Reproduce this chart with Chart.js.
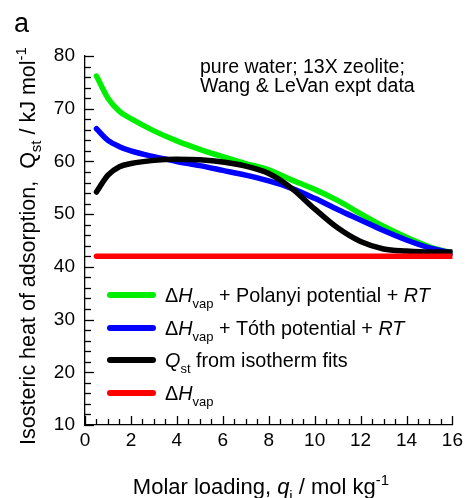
<!DOCTYPE html>
<html>
<head>
<meta charset="utf-8">
<script src="https://cdn.jsdelivr.net/npm/chart.js@4"></script>
<style>
  html, body { margin: 0; padding: 0; background: #fff; }
  #wrap { width: 467px; height: 498px; position: relative; }
</style>
</head>
<body>
<div id="wrap"><canvas id="qstChart"></canvas></div>
<script>
// molar loading, mol/kg
const loading = [0.5, 1, 1.5, 2, 3, 4, 5, 6, 7, 8, 9, 10, 11, 12, 13, 14, 15, 16];
// heats of adsorption, kJ/mol
const polanyi = [76.2, 72.0, 69.5, 68.1, 65.8, 63.9, 62.3, 60.9, 59.6, 58.4, 56.5, 54.7, 52.6, 50.1, 47.7, 45.6, 43.8, 42.6];
const toth    = [66.2, 64.0, 62.8, 62.0, 60.9, 60.0, 59.2, 58.3, 57.4, 56.3, 54.9, 53.0, 50.9, 48.9, 46.9, 45.1, 43.6, 42.6];
const qstFit  = [54.2, 57.4, 59.0, 59.6, 60.2, 60.4, 60.3, 59.9, 59.1, 57.7, 54.9, 51.0, 47.4, 44.8, 43.4, 43.0, 42.8, 42.8];
const dHvap   = [42, 42, 42, 42, 42, 42, 42, 42, 42, 42, 42, 42, 42, 42, 42, 42, 42, 42];

const FONT = "'Liberation Sans', Arial, sans-serif";

const pts = (ys) => loading.map((x, i) => ({ x: x, y: ys[i] }));

// little rich-text helper: italic, subscript, superscript
function partFont(p, size) {
  const s = (p.sub || p.sup) ? Math.round(size * 0.68) : size;
  return (p.i ? 'italic ' : '') + s + 'px ' + FONT;
}
function richWidth(ctx, parts, size) {
  let w = 0;
  parts.forEach(p => { ctx.font = partFont(p, size); w += ctx.measureText(p.t).width; });
  return w;
}
function drawRich(ctx, x, y, parts, size) {
  ctx.textBaseline = 'alphabetic';
  ctx.textAlign = 'left';
  parts.forEach(p => {
    ctx.font = partFont(p, size);
    let dy = 0;
    if (p.sub) dy = size * 0.3;
    if (p.sup) dy = -size * 0.42;
    ctx.fillText(p.t, x, y + dy);
    x += ctx.measureText(p.t).width;
  });
}

const legendItems = [
  { color: '#00ee00', parts: [{ t: '\u0394' }, { t: 'H', i: 1 }, { t: 'vap', sub: 1 }, { t: ' + Polanyi potential + ' }, { t: 'RT', i: 1 }] },
  { color: '#0000ff', parts: [{ t: '\u0394' }, { t: 'H', i: 1 }, { t: 'vap', sub: 1 }, { t: ' + T\u00f3th potential + ' }, { t: 'RT', i: 1 }] },
  { color: '#000000', parts: [{ t: 'Q', i: 1 }, { t: 'st', sub: 1 }, { t: ' from isotherm fits' }] },
  { color: '#ff0000', parts: [{ t: '\u0394' }, { t: 'H', i: 1 }, { t: 'vap', sub: 1 }] }
];

const decor = {
  id: 'decor',
  afterDraw(chart) {
    const ctx = chart.ctx;
    const xs = chart.scales.x, ys = chart.scales.y;
    const a = chart.chartArea;
    ctx.save();
    ctx.strokeStyle = '#000';
    ctx.lineWidth = 1.3;
    // inward ticks
    for (let v = 10; v <= 80; v += 2) {
      const py = Math.round(ys.getPixelForValue(v)) + 0.5;
      const len = v % 10 === 0 ? 9 : 6;
      ctx.beginPath(); ctx.moveTo(a.left, py); ctx.lineTo(a.left + len, py); ctx.stroke();
    }
    for (let v = 0; v <= 16; v += 0.5) {
      const px = Math.round(xs.getPixelForValue(v)) + 0.5;
      const len = v % 2 === 0 ? 9 : 6;
      ctx.beginPath(); ctx.moveTo(px, a.bottom); ctx.lineTo(px, a.bottom - len); ctx.stroke();
    }

    ctx.fillStyle = '#000';
    // panel letter
    ctx.font = '27px ' + FONT;
    ctx.fillText('a', 14, 32);

    // note
    ctx.font = '19.5px ' + FONT;
    ctx.fillText('pure water; 13X zeolite;', 200, 73);
    ctx.fillText('Wang & LeVan expt data', 200, 92);

    // legend
    const rowY = [295, 328, 360, 393];
    legendItems.forEach((it, k) => {
      ctx.strokeStyle = it.color;
      ctx.lineWidth = 6;
      ctx.lineCap = 'round';
      ctx.beginPath(); ctx.moveTo(110, rowY[k]); ctx.lineTo(153, rowY[k]); ctx.stroke();
      ctx.fillStyle = '#000';
      drawRich(ctx, 165, rowY[k] + 7, it.parts, 19.8);
    });

    // x title
    const xt = [{ t: 'Molar loading, ' }, { t: 'q', i: 1 }, { t: 'i', sub: 1 }, { t: ' / mol kg' }, { t: '-1', sup: 1 }];
    const xw = richWidth(ctx, xt, 22);
    drawRich(ctx, 261 - xw / 2, 494, xt, 22);

    // y title
    const yt = [{ t: 'Isosteric heat of adsorption,  Q' }, { t: 'st', sub: 1 }, { t: ' / kJ mol' }, { t: '-1', sup: 1 }];
    const yw = richWidth(ctx, yt, 21.5);
    ctx.translate(35, 246);
    ctx.rotate(-Math.PI / 2);
    drawRich(ctx, -yw / 2, 0, yt, 21.5);
    ctx.restore();
  }
};

const line = (label, data, color, order) => ({
  label: label,
  data: pts(data),
  borderColor: color,
  backgroundColor: color,
  borderWidth: 5.5,
  pointRadius: 0,
  cubicInterpolationMode: 'monotone',
  borderCapStyle: 'round',
  fill: false,
  order: order
});

new Chart(document.getElementById('qstChart'), {
  type: 'line',
  data: {
    datasets: [
      line('dHvap + Polanyi potential + RT', polanyi, '#00ee00', 3),
      line('dHvap + Toth potential + RT', toth, '#0000ff', 2),
      line('Qst from isotherm fits', qstFit, '#000000', 1),
      line('dHvap', dHvap, '#ff0000', 0)
    ]
  },
  options: {
    responsive: true,
    maintainAspectRatio: false,
    animation: false,
    layout: { padding: { top: 56, right: 12, left: 0, bottom: 0 } },
    plugins: { legend: { display: false }, tooltip: { enabled: false } },
    scales: {
      x: {
        type: 'linear', min: 0, max: 16,
        afterFit: (s) => { s.height = 73; },
        grid: { display: false, drawTicks: false },
        border: { display: true, color: '#000', width: 1.3 },
        ticks: { stepSize: 2, padding: 4, color: '#000', font: { family: FONT, size: 19 }, maxRotation: 0 }
      },
      y: {
        min: 10, max: 80,
        afterFit: (s) => { s.width = 85; },
        grid: { display: false, drawTicks: false },
        border: { display: true, color: '#000', width: 1.3 },
        ticks: { stepSize: 10, padding: 10, color: '#000', font: { family: FONT, size: 19 } }
      }
    }
  },
  plugins: [decor]
});
</script>
</body>
</html>
